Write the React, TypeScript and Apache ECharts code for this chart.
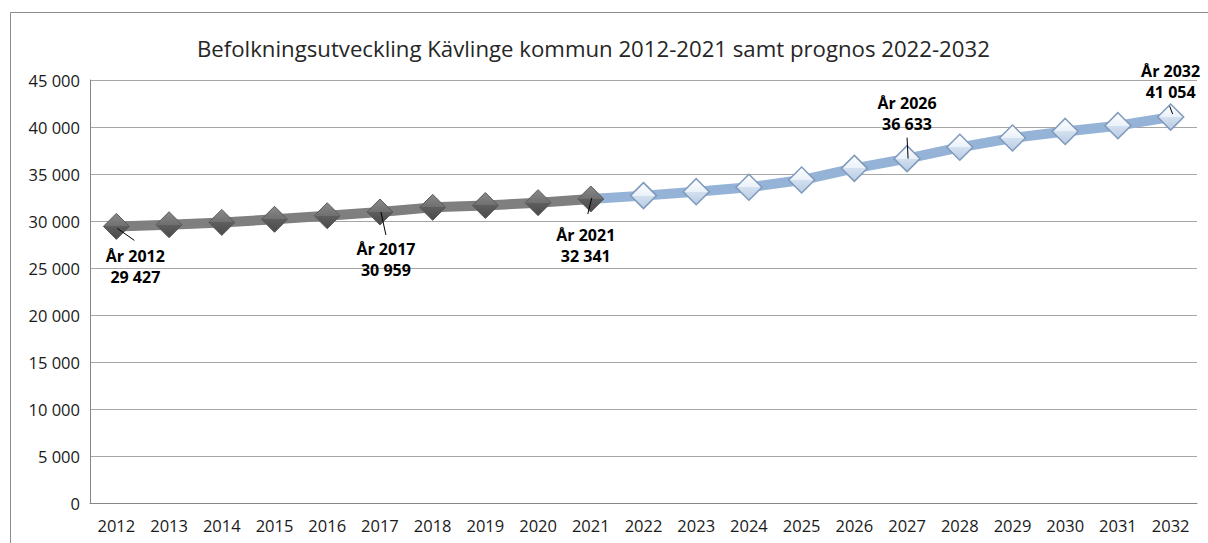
import React, { useEffect, useRef } from "react";
import * as echarts from "echarts";

const categories = [
  "2012", "2013", "2014", "2015", "2016", "2017", "2018", "2019", "2020", "2021",
  "2022", "2023", "2024", "2025", "2026", "2027", "2028", "2029", "2030", "2031", "2032",
];
// Historical population 2012-2021
const historical = [29427, 29600, 29850, 30180, 30560, 30959, 31450, 31650, 31950, 32341];
// Forecast 2022-2032
const forecast = [32700, 33120, 33590, 34360, 35600, 36633, 37840, 38830, 39530, 40140, 41054];

const yTicks = { min: 0, max: 45000, interval: 5000 };

// Annotated points: category where label sits and the label's year text
const labelCategories = ["2012", "2017", "2021", "2027", "2032"];
const labelYearTexts = ["År 2012", "År 2017", "År 2021", "År 2026", "År 2032"];

const titleText = "Befolkningsutveckling Kävlinge kommun 2012-2021 samt prognos 2022-2032";

const fmt = (v: number) => String(Math.round(v)).replace(/\B(?=(\d{3})+(?!\d))/g, " ");

// layout of annotations (pixel offsets from point)
const labelLayout: Record<string, { offset: [number, number]; lead: [number, number, number, number] }> = {
  "2012": { offset: [19, 40], lead: [1, 2, 18, 14] },
  "2017": { offset: [6, 48], lead: [1, 0, 6, 23] },
  "2021": { offset: [-5, 47], lead: [1, -1, -3, 15] },
  "2027": { offset: [0, -45], lead: [0, -21, 1, 0] },
  "2032": { offset: [0, -36], lead: [-1, -11, 2, -3] },
};

const labelStyle = {
  fontFamily: "Open Sans",
  fontWeight: "bold" as const,
  fontSize: 16,
  lineHeight: 21,
  color: "#000",
  align: "center" as const,
  verticalAlign: "middle" as const,
};

export default function App() {
  const ref = useRef<HTMLDivElement>(null);

  useEffect(() => {
    if (!ref.current) return;
    const chart = echarts.init(ref.current, undefined, { renderer: "svg" });

    const allValues: (number | null)[] = categories.map((_, i) =>
      i < historical.length ? historical[i] : forecast[i - historical.length]
    );

    const makeLabel = (cat: string) => {
      const idx = labelCategories.indexOf(cat);
      if (idx < 0) return undefined;
      const ci = categories.indexOf(cat);
      return {
        show: true,
        position: "inside" as const,
        offset: labelLayout[cat].offset,
        formatter: labelYearTexts[idx] + "\n" + fmt(allValues[ci] as number),
        ...labelStyle,
      };
    };

    const histData = categories.map((c, i) => {
      if (i >= historical.length) return null;
      const lbl = makeLabel(c);
      return lbl ? { value: historical[i], label: lbl } : historical[i];
    });

    const fcData = categories.map((c, i) => {
      if (i < historical.length - 1) return null;
      if (i === historical.length - 1) return { value: historical[i], symbol: "none" };
      const v = forecast[i - historical.length];
      const lbl = makeLabel(c);
      return lbl ? { value: v, label: lbl } : v;
    });

    const option: any = {
      animation: false,
      title: {
        text: titleText,
        left: 192,
        top: 32,
        textStyle: { fontFamily: "Open Sans", fontSize: 22.2, fontWeight: "normal", color: "#262626" },
      },
      grid: { left: 90, right: 11, top: 80, bottom: 40, containLabel: false },
      xAxis: {
        type: "category",
        data: categories,
        boundaryGap: true,
        axisLine: { show: true, lineStyle: { color: "#868686", width: 1 } },
        axisTick: { show: false },
        axisLabel: { fontFamily: "Open Sans", fontSize: 16.5, color: "#1a1a1a", margin: 14 },
      },
      yAxis: {
        type: "value",
        min: yTicks.min,
        max: yTicks.max,
        interval: yTicks.interval,
        axisLine: { show: true, lineStyle: { color: "#868686", width: 1 } },
        axisTick: { show: false },
        splitLine: { show: true, lineStyle: { color: "#a6a6a6", width: 1 } },
        axisLabel: {
          fontFamily: "Open Sans",
          fontSize: 16.5,
          color: "#1a1a1a",
          margin: 10,
          formatter: (v: number) => fmt(v),
        },
      },
      series: [
        {
          name: "Prognos",
          type: "line",
          data: fcData,
          z: 2,
          symbol: "diamond",
          symbolSize: [26, 26],
          showAllSymbol: true,
          lineStyle: { color: "#95b3d7", width: 10 },
          itemStyle: {
            color: new echarts.graphic.LinearGradient(0, 0, 0, 1, [
              { offset: 0, color: "#ffffff" },
              { offset: 0.5, color: "#eaf1f9" },
              { offset: 0.5, color: "#d3e0ef" },
              { offset: 1, color: "#b9cce4" },
            ]),
            borderColor: "#7f99bb",
            borderWidth: 1.5,
          },
          emphasis: { disabled: true },
        },
        {
          name: "Utfall",
          type: "line",
          data: histData,
          z: 3,
          symbol: "diamond",
          symbolSize: [26, 26],
          showAllSymbol: true,
          lineStyle: { color: "#7f7f7f", width: 10 },
          itemStyle: {
            color: new echarts.graphic.LinearGradient(0, 0, 0, 1, [
              { offset: 0, color: "#8a8a8a" },
              { offset: 0.5, color: "#6f6f6f" },
              { offset: 0.5, color: "#5e5e5e" },
              { offset: 1, color: "#4a4a4a" },
            ]),
            borderColor: "#5a5a5a",
            borderWidth: 1,
          },
          emphasis: { disabled: true },
        },
      ],
    };

    chart.setOption(option);

    const graphics: any[] = [
      {
        type: "rect",
        silent: true,
        z: 0,
        shape: { x: 10.5, y: 12.5, width: 1400, height: 700 },
        style: { fill: "none", stroke: "#8c8c8c", lineWidth: 1 },
      },
    ];
    labelCategories.forEach((cat) => {
      const ci = categories.indexOf(cat);
      const p = chart.convertToPixel({ gridIndex: 0 }, [cat, allValues[ci] as number]) as number[];
      const l = labelLayout[cat].lead;
      graphics.push({
        type: "line",
        silent: true,
        z: 100,
        shape: { x1: p[0] + l[0], y1: p[1] + l[1], x2: p[0] + l[2], y2: p[1] + l[3] },
        style: { stroke: "#000", lineWidth: 1 },
      });
    });
    chart.setOption({ graphic: graphics });

    return () => chart.dispose();
  }, []);

  return (
    <div
      ref={ref}
      style={{ position: "fixed", left: 0, top: 0, width: 1208, height: 543, background: "#fff" }}
    />
  );
}
